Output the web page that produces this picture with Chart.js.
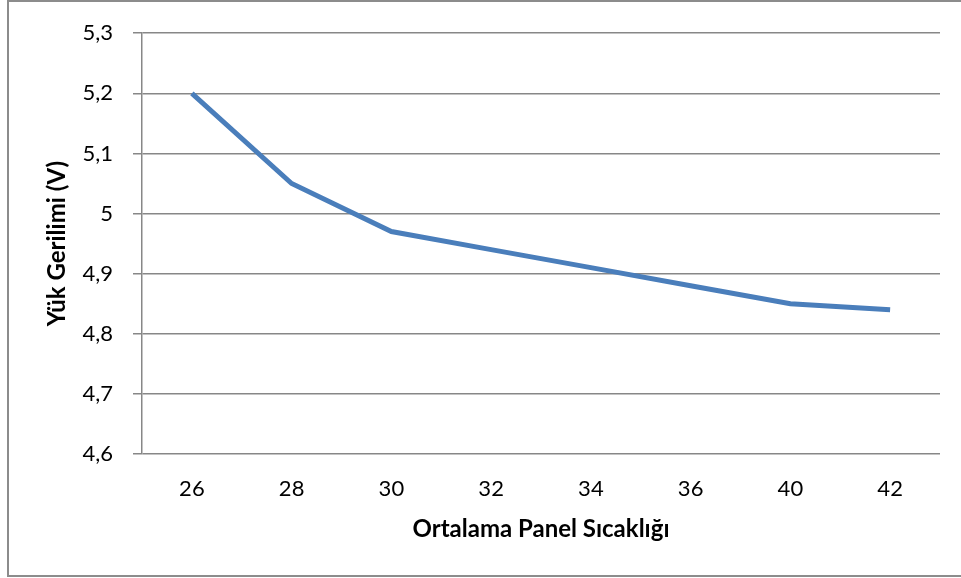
<!DOCTYPE html>
<html>
<head>
<meta charset="utf-8">
<script src="https://cdn.jsdelivr.net/npm/chart.js@4"></script>
<style>
  html, body { margin: 0; padding: 0; background: #fff; }
  #wrap { width: 961px; height: 578px; position: relative; }
  canvas { display: block; }
</style>
</head>
<body>
<div id="wrap"><canvas id="c" width="961" height="578"></canvas></div>
<script>
// Average panel temperature (°C) and measured load voltage (V)
const temperatures = ['26', '28', '30', '32', '34', '36', '40', '42'];
const loadVoltage = [5.2, 5.05, 4.97, 4.94, 4.91, 4.88, 4.85, 4.84];
const yTicks = [4.6, 4.7, 4.8, 4.9, 5.0, 5.1, 5.2, 5.3];

const xTitle = 'Ortalama Panel Sıcaklığı';
const yTitle = 'Yük Gerilimi (V)';

const FONT = 'Lato, "Open Sans", sans-serif';
const GRID = '#878787';

// Thin grey frame round the whole chart
const frame = {
  id: 'frame',
  afterDraw(chart) {
    const ctx = chart.ctx;
    ctx.save();
    ctx.strokeStyle = '#8c8c8c';
    ctx.lineWidth = 2;
    ctx.beginPath();
    ctx.moveTo(970, 1);
    ctx.lineTo(8, 1);
    ctx.lineTo(8, 576);
    ctx.lineTo(970, 576);
    ctx.stroke();
    ctx.restore();
  }
};

new Chart(document.getElementById('c'), {
  type: 'line',
  data: {
    labels: temperatures,
    datasets: [{
      data: loadVoltage,
      borderColor: '#4A7EBB',
      borderWidth: 5,
      pointRadius: 0,
      tension: 0,
      fill: false
    }]
  },
  options: {
    responsive: false,
    animation: false,
    devicePixelRatio: 1,
    layout: { autoPadding: false, padding: { left: 10, top: 30, right: 21, bottom: 0 } },
    plugins: { legend: { display: false }, tooltip: { enabled: false } },
    scales: {
      x: {
        type: 'category',
        offset: true,
        grid: { display: false, drawTicks: false },
        border: { display: false },
        ticks: { color: '#000', font: { family: FONT, size: 22 }, padding: 22, maxRotation: 0 },
        title: { display: true, text: xTitle, color: '#000', font: { family: FONT, size: 24, weight: 'bold' }, padding: { top: 0, bottom: 34 } },
        afterFit(s) { s.height = 124; }
      },
      y: {
        min: 4.6,
        max: 5.3,
        afterBuildTicks(s) { s.ticks = yTicks.map(v => ({ value: v })); },
        grid: { color: GRID, lineWidth: 1.5, drawTicks: true, tickLength: 9, tickColor: GRID },
        border: { display: true, color: GRID, width: 1.5 },
        ticks: {
          color: '#000',
          font: { family: FONT, size: 22 },
          padding: 20,
          callback: v => String(Math.round(v * 10) / 10).replace('.', ',')
        },
        title: { display: true, text: yTitle, color: '#000', font: { family: FONT, size: 24, weight: 'bold' }, padding: { top: 33, bottom: 0 } },
        afterFit(s) { s.width = 132; }
      }
    }
  },
  plugins: [frame]
});
</script>
</body>
</html>
